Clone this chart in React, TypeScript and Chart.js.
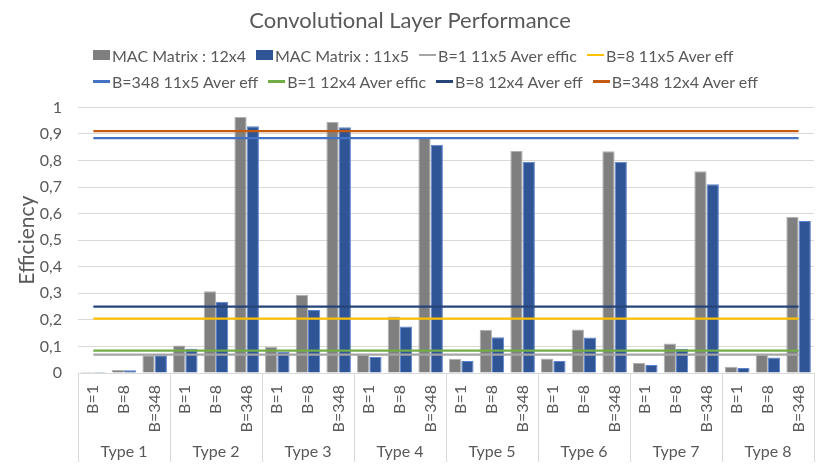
import { useEffect, useRef } from "react";
import { Chart, registerables } from "chart.js";

Chart.register(...registerables);

// categories: 8 layer types, each run at three batch sizes
const types = ["Type 1", "Type 2", "Type 3", "Type 4", "Type 5", "Type 6", "Type 7", "Type 8"];
const batches = ["B=1", "B=8", "B=348"];

// bar series (efficiency per type / batch)
const mac12x4 = [
  0.004, 0.011, 0.067, 0.104, 0.308, 0.964, 0.099, 0.295, 0.945, 0.068, 0.213, 0.887,
  0.054, 0.163, 0.836, 0.055, 0.164, 0.835, 0.038, 0.111, 0.76, 0.024, 0.068, 0.588,
];
const mac11x5 = [
  0.004, 0.01, 0.067, 0.091, 0.268, 0.929, 0.08, 0.237, 0.925, 0.06, 0.175, 0.859,
  0.045, 0.135, 0.795, 0.045, 0.134, 0.795, 0.03, 0.091, 0.711, 0.019, 0.058, 0.572,
];

// average efficiency lines
const avgNames = [
  "B=1 11x5 Aver effic",
  "B=8 11x5 Aver eff",
  "B=348 11x5 Aver eff",
  "B=1 12x4 Aver effic",
  "B=8 12x4 Aver eff",
  "B=348 12x4 Aver eff",
];
const avgValues = [0.069, 0.205, 0.884, 0.084, 0.25, 0.911];
const avgColors = ["#a5a5a5", "#ffc000", "#4472c4", "#70ad47", "#264478", "#c55a11"];

const yTicks = [0, 0.1, 0.2, 0.3, 0.4, 0.5, 0.6, 0.7, 0.8, 0.9, 1];

const categories = types.flatMap((t) => batches.map((b) => `${t} ${b}`));

const textColor = "#595959";
const gridColor = "#d9d9d9";
const fontFamily = "Lato, 'Open Sans', sans-serif";

// legend items, in Excel's order (two rows of four)
const legendItems = [
  { label: "MAC Matrix : 12x4", color: "#7f7f7f", kind: "box" },
  { label: "MAC Matrix : 11x5", color: "#2f5597", kind: "box" },
  ...avgNames.map((n, i) => ({ label: n, color: avgColors[i], kind: "line" })),
];
const legendRows = [legendItems.slice(0, 4), legendItems.slice(4)];

const typeGroups = {
  id: "typeGroups",
  afterDraw(chart: Chart) {
    const { ctx, chartArea } = chart;
    const x = chart.scales.x;
    const step = (chartArea.right - chartArea.left) / categories.length;
    ctx.save();
    ctx.strokeStyle = gridColor;
    ctx.lineWidth = 1;
    for (let g = 0; g <= types.length; g++) {
      const px = Math.round(chartArea.left + g * batches.length * step) + 0.5;
      ctx.beginPath();
      ctx.moveTo(px, chartArea.bottom);
      ctx.lineTo(px, 462);
      ctx.stroke();
    }
    ctx.fillStyle = textColor;
    ctx.font = `16px ${fontFamily}`;
    ctx.textAlign = "center";
    ctx.textBaseline = "middle";
    types.forEach((t, g) => {
      const cx = (x.getPixelForValue(g * 3) + x.getPixelForValue(g * 3 + 2)) / 2;
      ctx.fillText(t, cx, 452);
    });
    ctx.restore();
  },
};

export default function App() {
  const chartRef = useRef<HTMLCanvasElement | null>(null);

  useEffect(() => {
    if (!chartRef.current) return;
    document.body.style.margin = "0";

    const chart = new Chart(chartRef.current, {
      type: "bar",
      data: {
        labels: categories,
        datasets: [
          ...avgNames.map((name, i) => ({
            type: "line" as const,
            label: name,
            data: [
              { x: categories[0], y: avgValues[i] },
              { x: categories[categories.length - 1], y: avgValues[i] },
            ],
            borderColor: avgColors[i],
            borderWidth: 2.25,
            pointRadius: 0,
            order: 0,
          })),
          {
            type: "bar" as const,
            label: "MAC Matrix : 12x4",
            data: mac12x4,
            backgroundColor: "#7f7f7f",
            borderColor: "#b0b0b0",
            borderWidth: 1,
            order: 1,
          },
          {
            type: "bar" as const,
            label: "MAC Matrix : 11x5",
            data: mac11x5,
            backgroundColor: "#2f5597",
            borderColor: "#5b84cf",
            borderWidth: 1,
            order: 1,
          },
        ],
      },
      options: {
        responsive: true,
        maintainAspectRatio: false,
        animation: false,
        layout: { padding: { left: 0, right: 10, top: 0, bottom: 0 } },
        datasets: {
          bar: { categoryPercentage: 0.8, barPercentage: 1 },
        },
        plugins: {
          legend: { display: false },
          tooltip: { enabled: false },
          title: {
            display: true,
            text: "Convolutional Layer Performance",
            color: textColor,
            font: { family: fontFamily, size: 22, weight: "normal" },
            padding: { top: 8, bottom: 73 },
          },
        },
        scales: {
          x: {
            grid: { display: false, drawTicks: false },
            border: { display: true, color: gridColor },
            ticks: {
              color: textColor,
              font: { family: fontFamily, size: 16 },
              minRotation: 90,
              maxRotation: 90,
              autoSkip: false,
              padding: 12,
              callback: (_v, i) => batches[i % batches.length],
            },
            afterFit: (scale) => {
              scale.height = 94;
            },
          },
          y: {
            min: 0,
            max: 1,
            grid: { color: gridColor, drawTicks: false },
            border: { display: false },
            afterBuildTicks: (scale) => {
              scale.ticks = yTicks.map((v) => ({ value: v }));
            },
            ticks: {
              color: textColor,
              font: { family: fontFamily, size: 16 },
              padding: 16,
              callback: (v) => {
                const n = Number(v);
                return n === 0 || n === 1 ? String(n) : n.toFixed(1).replace(".", ",");
              },
            },
            title: {
              display: true,
              text: "Efficiency",
              color: textColor,
              font: { family: fontFamily, size: 21 },
              padding: { top: 15, bottom: 0 },
            },
            afterFit: (scale) => {
              scale.width = 78;
            },
          },
        },
      },
      plugins: [typeGroups],
    });

    return () => chart.destroy();
  }, []);

  return (
    <div style={{ position: "fixed", left: 0, top: 0, width: 830, height: 467, background: "#fff" }}>
      <canvas ref={chartRef} />
      {legendRows.map((row, r) => (
        <div
          key={r}
          style={{
            position: "absolute",
            left: 93,
            top: 45 + r * 26.5,
            height: 20,
            display: "flex",
            alignItems: "center",
            gap: 10,
            whiteSpace: "nowrap",
            fontFamily,
            fontSize: 16,
            color: textColor,
          }}
        >
          {row.map((item) => (
            <div key={item.label} style={{ display: "flex", alignItems: "center" }}>
              <span
                style={{
                  display: "inline-block",
                  width: 17,
                  height: item.kind === "box" ? 10 : 2.5,
                  background: item.color,
                  marginRight: 2,
                }}
              />
              {item.label}
            </div>
          ))}
        </div>
      ))}
    </div>
  );
}
